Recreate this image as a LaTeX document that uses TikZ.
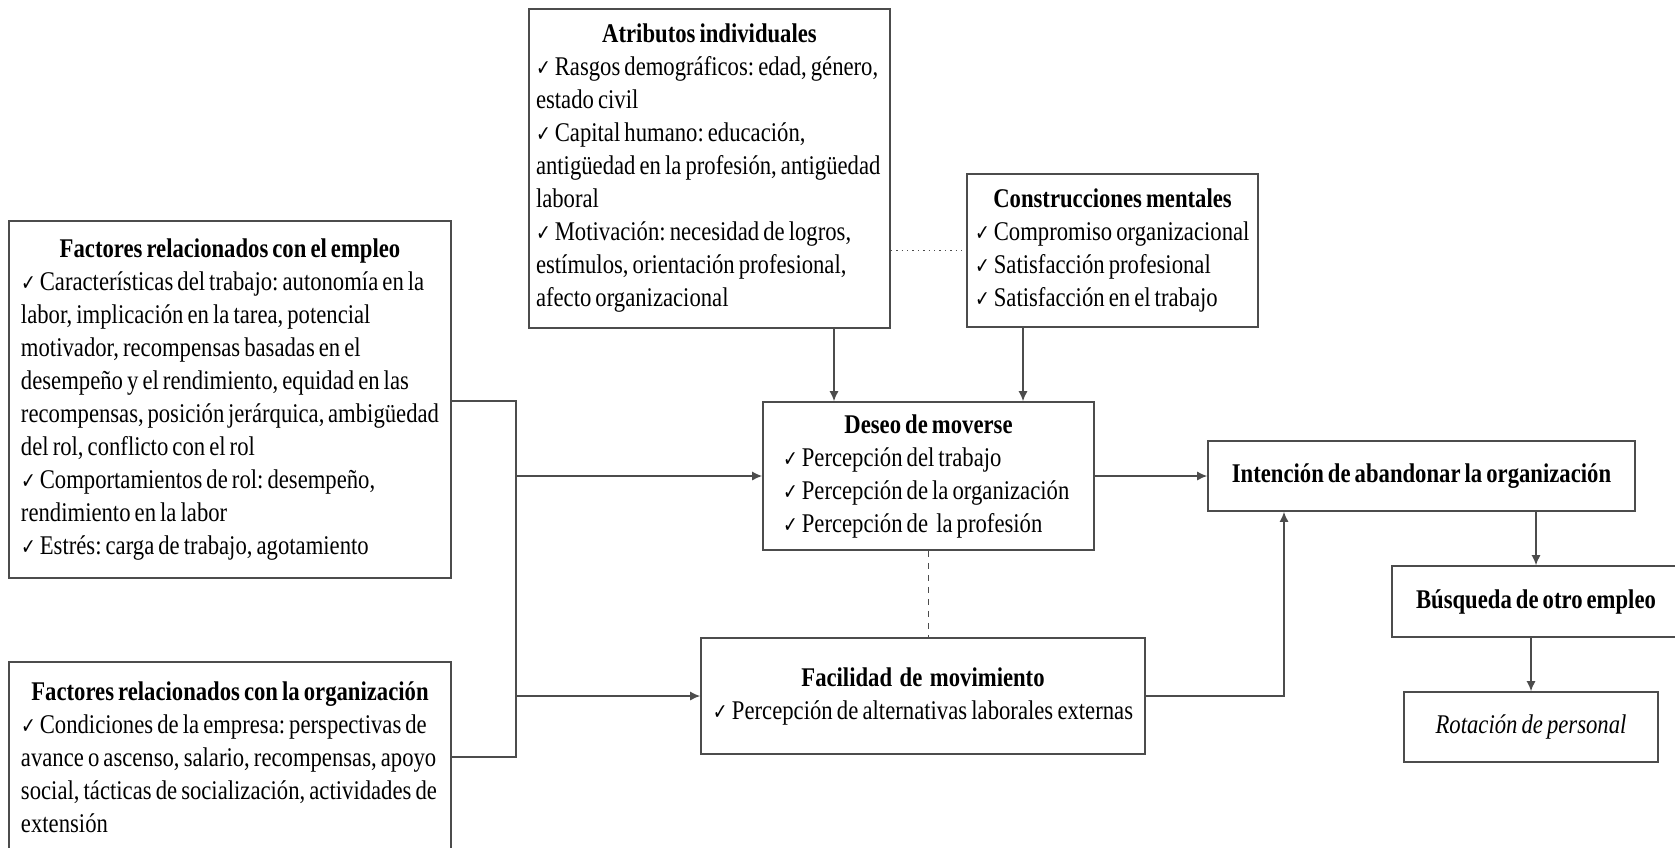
\documentclass[tikz,border=0pt]{standalone}
\usepackage{fontspec}
\setmainfont{Liberation Serif}[FakeStretch=0.84, WordSpace=0.72]
\newfontfamily\symfont{DejaVu Sans}[FakeStretch=0.8]
\usetikzlibrary{arrows.meta}
\newcommand{\chk}{{\symfont\fontsize{11}{11}\selectfont ✓}}
\newcommand{\tightsp}{\spaceskip=0pt\xspaceskip=0pt\relax}
\hyphenpenalty=10000
\frenchspacing

\begin{document}
\begin{tikzpicture}[x=0.5pt, y=-0.5pt,
    box/.style={draw=black!70, line width=0.8pt, inner ysep=4pt,
      font=\fontsize{13.5}{16.5}\selectfont, execute at begin node=\tightsp},
    link/.style={draw=black!70, line width=0.7pt},
    arr/.style={link, -{Latex[length=5pt, width=4.5pt]}}]
  \useasboundingbox (0,0) rectangle (1675,847);

  % Factors on the left
  \node[box, inner xsep=6pt, text width=209pt, minimum height=178.5pt] (empleo) at (230,399.5)
    {\centering\textbf{Factores relacionados con el empleo}\par\raggedright
     \chk{} Características del trabajo: autonomía en la\\
     labor, implicación en la tarea, potencial\\
     motivador, recompensas basadas en el\\
     desempeño y el rendimiento, equidad en las\\
     recompensas, posición jerárquica, ambigüedad\\
     del rol, conflicto con el rol\\
     \chk{} Comportamientos de rol: desempeño,\\
     rendimiento en la labor\\
     \chk{} Estrés: carga de trabajo, agotamiento};
  \node[box, inner xsep=6pt, text width=209pt, minimum height=95pt] (org) at (230,757)
    {\centering\textbf{Factores relacionados con la organización}\par\raggedright
     \chk{} Condiciones de la empresa: perspectivas de\\
     avance o ascenso, salario, recompensas, apoyo\\
     social, tácticas de socialización, actividades de\\
     extensión};

  % Boxes on top
  \node[box, inner xsep=3.5pt, text width=173.5pt, minimum height=159.5pt] (atrib) at (709.5,168.5)
    {\centering\textbf{Atributos individuales}\par\raggedright
     \chk{} Rasgos demográficos: edad, género,\\
     estado civil\\
     \chk{} Capital humano: educación,\\
     antigüedad en la profesión, antigüedad\\
     laboral\\
     \chk{} Motivación: necesidad de logros,\\
     estímulos, orientación profesional,\\
     afecto organizacional};
  \node[box, inner xsep=4pt, text width=137.5pt, minimum height=76.5pt] (constr) at (1112.5,250.5)
    {\centering\textbf{Construcciones mentales}\par\raggedright
     \chk{} Compromiso organizacional\\
     \chk{} Satisfacción profesional\\
     \chk{} Satisfacción en el trabajo};

  % Middle boxes
  \node[box, inner xsep=10pt, text width=145.5pt, minimum height=74pt] (deseo) at (928.5,476)
    {\centering\textbf{Deseo de moverse}\par\raggedright
     \chk{} Percepción del trabajo\\
     \chk{} Percepción de la organización\\
     \chk{} Percepción de\ \ la profesión};
  \node[box, inner xsep=4pt, text width=214pt, minimum height=58pt, align=center] (facil) at (923,696)
    {\textbf{Facilidad de movimiento}\\
     \chk{} Percepción de alternativas laborales externas};

  % Outcome chain
  \node[box, minimum width=213.5pt, minimum height=35pt] (inten) at (1421.5,476)
    {\textbf{Intención de abandonar la organización}};
  \node[box, minimum width=144pt, minimum height=35.5pt] (busq) at (1536,601.5)
    {\textbf{Búsqueda de otro empleo}};
  \node[box, minimum width=127pt, minimum height=35pt] (rot) at (1531,727)
    {\textit{Rotación de personal}};

  % Junction of the two factor boxes
  \coordinate (jn) at (516,401);
  \coordinate (js) at (516,757);
  \draw[link] (empleo.east |- jn) -- (jn) -- (js) -- (org.east);
  \draw[arr] (jn |- deseo.west) -- (deseo.west);
  \draw[arr] (jn |- facil.west) -- (facil.west);

  % Arrows down into the desire box
  \coordinate (xa) at (834,0);
  \coordinate (xc) at (1023,0);
  \draw[arr] (xa |- atrib.south) -- (xa |- deseo.north);
  \draw[arr] (xc |- constr.south) -- (xc |- deseo.north);
  \draw[link, dotted] (atrib.east |- constr.west) -- (constr.west);
  \draw[link, dashed, line width=0.5pt] (deseo.south) -- (deseo.south |- facil.north);

  % Towards the intention
  \coordinate (xi) at (1284,0);
  \draw[arr] (deseo.east) -- (inten.west);
  \draw[arr] (facil.east) -| (xi |- inten.south);
  \draw[arr] (busq.north |- inten.south) -- (busq.north);
  \draw[arr] (rot.north |- busq.south) -- (rot.north);
\end{tikzpicture}
\end{document}
